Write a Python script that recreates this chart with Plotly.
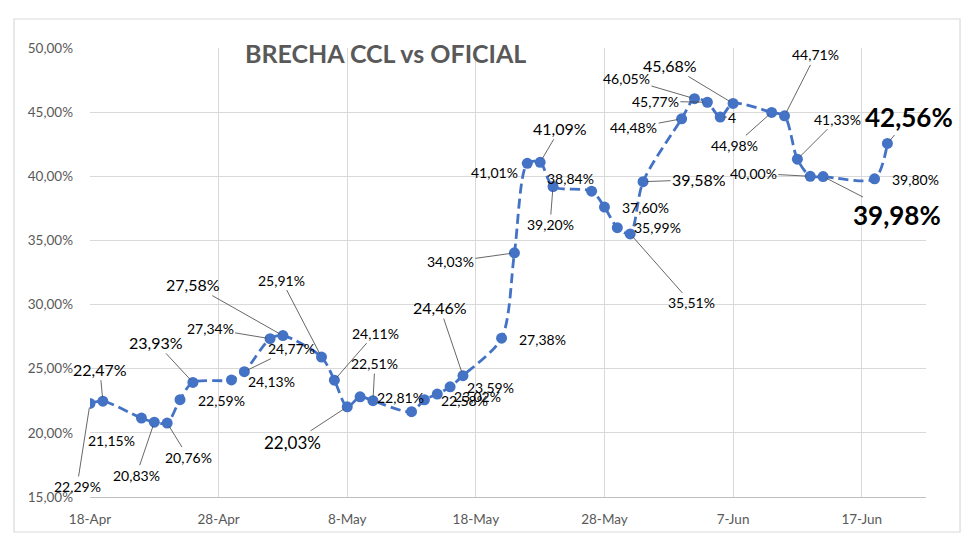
import plotly.graph_objects as go

# Datos: brecha CCL vs oficial (2024)
fechas = ["2024-04-18", "2024-04-19", "2024-04-22", "2024-04-23", "2024-04-24", "2024-04-25",
          "2024-04-26", "2024-04-29", "2024-04-30", "2024-05-02", "2024-05-03", "2024-05-06",
          "2024-05-07", "2024-05-08", "2024-05-09", "2024-05-10", "2024-05-13", "2024-05-14",
          "2024-05-15", "2024-05-16", "2024-05-17", "2024-05-20", "2024-05-21", "2024-05-22",
          "2024-05-23", "2024-05-24", "2024-05-27", "2024-05-28", "2024-05-29", "2024-05-30",
          "2024-05-31", "2024-06-03", "2024-06-04", "2024-06-05", "2024-06-06", "2024-06-07",
          "2024-06-10", "2024-06-11", "2024-06-12", "2024-06-13", "2024-06-14", "2024-06-18",
          "2024-06-19"]
brecha = [22.29, 22.47, 21.15, 20.83, 20.76, 22.59,
          23.93, 24.13, 24.77, 27.34, 27.58, 25.91,
          24.11, 22.03, 22.81, 22.51, 21.65, 22.58,
          23.02, 23.59, 24.46, 27.38, 34.03, 41.01,
          41.09, 39.20, 38.84, 37.60, 35.99, 35.51,
          39.58, 44.48, 46.05, 45.77, 44.62, 45.68,
          44.98, 44.71, 41.33, 40.00, 39.98, 39.80,
          42.56]
# texto de etiqueta que difiere del valor (recortada en el original)
etiqueta_especial = {34: "4"}
ticks_x = ["2024-04-18", "2024-04-28", "2024-05-08", "2024-05-18", "2024-05-28", "2024-06-07", "2024-06-17"]

# Estilo de cada etiqueta: (dx, dy, tamaño, negrita, linea guia)  None = sin etiqueta
estilo = [
    (-13, 83, 14, False, True), (-3, -32, 16, False, True), (-30, 22, 14, False, False),
    (-18, 53, 14, False, True), (21, 34, 14, False, True), (41, 1, 14, False, False),
    (-37, -40, 16, False, True), (40, 2, 14, False, False), (47, -23, 14, False, True),
    (-60, -10, 14, False, True), (-90, -51, 16, False, True), (-40, -77, 14, False, True),
    (41, -47, 14, False, True), (-55, 36, 17, False, True), (40, 1, 14, False, False),
    (2, -37, 14, False, True), None, (40, 1, 14, False, False),
    (40, 2, 14, False, False), (40, 1, 14, False, False), (-23, -68, 16, False, True),
    (41, 1, 14, False, False), (-64, 9, 14, False, True), (-33, 9, 14, False, False),
    (20, -34, 16, False, True), (-3, 38, 14, False, True), (-21, -13, 14, False, False),
    (41, 0, 14, False, False), (40, 0, 14, False, False), (61, 69, 14, False, True),
    (56, -2, 16, False, True), (-48, 9, 14, False, True), (-68, -20, 14, False, True),
    (-52, -1, 14, False, True), (12, 0, 14, False, True), (-63, -38, 16, False, True),
    (-37, 33, 14, False, True), (31, -61, 14, False, True), (40, -40, 14, False, True),
    (-57, -3, 14, False, True), (74, 38, 26, True, True), (41, 1, 14, False, False),
    (22, -26, 26, True, True),
]

AZUL = "#4472C4"
GRIS = "#595959"
FUENTE = "Lato"

fig = go.Figure()
fig.add_trace(go.Scatter(
    x=fechas, y=brecha, mode="lines+markers",
    line=dict(color=AZUL, width=2.8, dash="10px,5px", shape="spline", smoothing=0.8),
    marker=dict(color=AZUL, size=11),
    showlegend=False,
))

# Etiquetas de datos
for i, (f, v) in enumerate(zip(fechas, brecha)):
    if estilo[i] is None:
        continue
    dx, dy, tam, negrita, guia = estilo[i]
    texto = etiqueta_especial.get(i, f"{v:.2f}".replace(".", ",") + "%")
    if negrita:
        texto = f"<b>{texto}</b>"
    fig.add_annotation(
        x=f, y=v, text=texto, showarrow=True, ax=dx, ay=dy,
        arrowhead=0, arrowwidth=0.8, standoff=4,
        arrowcolor="#404040" if guia else "rgba(0,0,0,0)",
        font=dict(family=FUENTE, size=tam, color="#000000"),
    )

# Titulo
fig.add_annotation(
    xref="paper", yref="paper", x=0.353, y=0.989, showarrow=False,
    xanchor="center", yanchor="middle",
    text="<b>BRECHA CCL vs OFICIAL</b>",
    font=dict(family=FUENTE, size=25, color=GRIS),
)

# Marco exterior
fig.add_shape(type="rect", xref="paper", yref="paper",
              x0=-0.0909, x1=1.0407, y0=-0.078, y1=1.0646,
              line=dict(color="#D9D9D9", width=1.2), layer="below")

# la pagina deja 8px de margen, se compensa aqui
fig.update_layout(
    width=972, height=541,
    margin=dict(l=82, r=54, t=40, b=52),
    plot_bgcolor="white", paper_bgcolor="white",
    separators=",.",
    font=dict(family=FUENTE, color=GRIS, size=13),
)
fig.update_xaxes(
    type="date", range=["2024-04-18", "2024-06-22"],
    tickvals=ticks_x, tickformat="%-d-%b",
    showgrid=True, gridcolor="#D9D9D9", gridwidth=1,
    showline=True, linecolor="#BFBFBF", linewidth=1.2,
    ticks="", ticklabelstandoff=10, zeroline=False,
    tickfont=dict(family=FUENTE, size=13.5, color=GRIS),
)
fig.update_yaxes(
    range=[15, 50], dtick=5, tickformat=".2f", ticksuffix="%",
    showgrid=True, gridcolor="#D9D9D9", gridwidth=1,
    showline=False, zeroline=False, ticks="", ticklabelstandoff=16,
    tickfont=dict(family=FUENTE, size=13.5, color=GRIS),
)

fig.write_html("out.html")
